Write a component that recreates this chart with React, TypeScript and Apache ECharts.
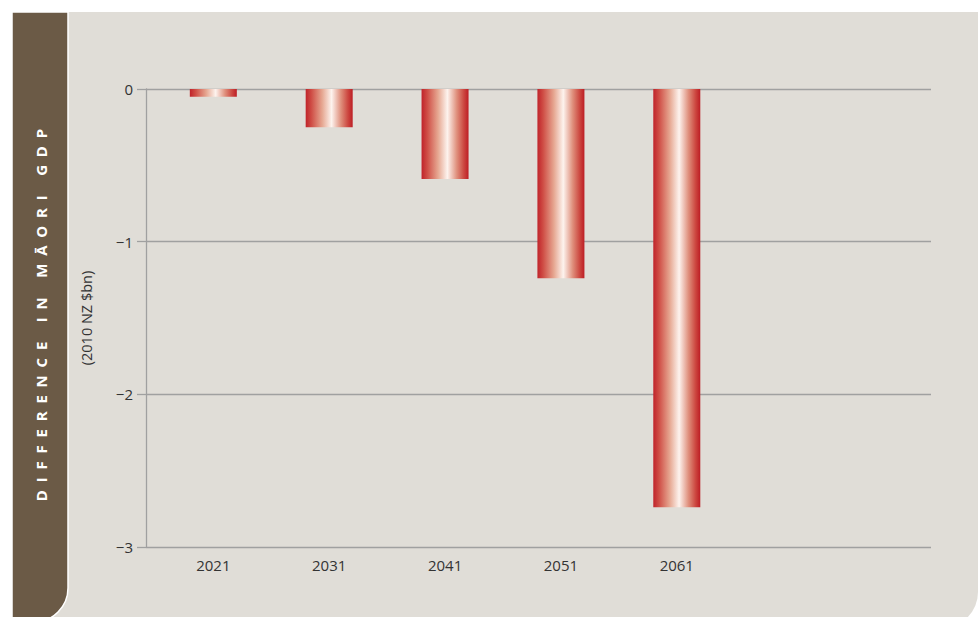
import React, { useEffect, useRef } from "react";
import * as echarts from "echarts";

const years = [2021, 2031, 2041, 2051, 2061];
const gdpDifference = [-0.05, -0.25, -0.59, -1.24, -2.74];
const titleText = "DIFFERENCE IN MĀORI GDP";
const unitText = "(2010 NZ $bn)";

export default function App() {
  const ref = useRef<HTMLDivElement>(null);

  useEffect(() => {
    const chart = echarts.init(ref.current!, null, { renderer: "svg" });
    const barGradient = new echarts.graphic.LinearGradient(0, 0, 1, 0, [
      { offset: 0, color: "#c0232a" },
      { offset: 0.12, color: "#cf4d45" },
      { offset: 0.35, color: "#e6a791" },
      { offset: 0.55, color: "#fdf3ee" },
      { offset: 0.75, color: "#df8f7c" },
      { offset: 0.9, color: "#cc4740" },
      { offset: 1, color: "#bd1d24" },
    ]);
    const spacedTitle = titleText
      .split(" ")
      .map((w) => w.split("").join("\u00A0\u00A0"))
      .join("\u00A0".repeat(5));
    const labelFont = "'Open Sans', 'Noto Sans', sans-serif";

    chart.setOption({
      animation: false,
      backgroundColor: "#ffffff",
      graphic: [
        {
          type: "rect",
          z: -10,
          silent: true,
          shape: { x: 12, y: 12, width: 966, height: 616, r: [0, 0, 36, 0] },
          style: { fill: "#e0ddd7" },
        },
        {
          type: "rect",
          z: -9,
          silent: true,
          shape: { x: 12, y: 12, width: 56, height: 610, r: [0, 0, 34, 0] },
          style: { fill: "#6b5a46", stroke: "#ffffff", lineWidth: 1.5 },
        },
        {
          type: "text",
          z: -8,
          silent: true,
          x: 41,
          y: 315,
          rotation: Math.PI / 2,
          style: {
            text: spacedTitle,
            fill: "#ffffff",
            fontFamily: labelFont,
            fontSize: 15,
            fontWeight: "bold",
            align: "center",
            verticalAlign: "middle",
          },
        },
      ],
      grid: { left: 146, right: 47, top: 89, bottom: 70 },
      xAxis: {
        type: "value",
        min: 2015.19,
        max: 2082.94,
        splitLine: { show: false },
        axisLine: { show: false },
        axisTick: { show: false },
        axisLabel: {
          customValues: years,
          formatter: (v: number) => String(v),
          color: "#333333",
          fontFamily: labelFont,
          fontSize: 15,
          margin: 10,
        },
      },
      yAxis: {
        type: "value",
        min: -3,
        max: 0,
        interval: 1,
        name: unitText,
        nameLocation: "middle",
        nameGap: 52,
        nameRotate: 90,
        nameTextStyle: { color: "#333333", fontFamily: labelFont, fontSize: 14.5 },
        axisLine: { show: true, lineStyle: { color: "#a0a0a0", width: 1.3 } },
        axisTick: { show: true, length: 9, lineStyle: { color: "#a0a0a0", width: 1.3 } },
        splitLine: { show: true, lineStyle: { color: "#a0a0a0", width: 1.3 } },
        axisLabel: {
          color: "#333333",
          fontFamily: labelFont,
          fontSize: 15,
          margin: 13,
          formatter: (v: number) => (v < 0 ? "\u2212" + Math.abs(v) : String(v)),
        },
      },
      series: [
        {
          type: "bar",
          barWidth: 47,
          itemStyle: { color: barGradient },
          data: years.map((y, i) => [y, gdpDifference[i]]),
        },
      ],
    });

    return () => chart.dispose();
  }, []);

  return (
    <div
      ref={ref}
      style={{ position: "fixed", left: 0, top: 0, width: 978, height: 617 }}
    />
  );
}
